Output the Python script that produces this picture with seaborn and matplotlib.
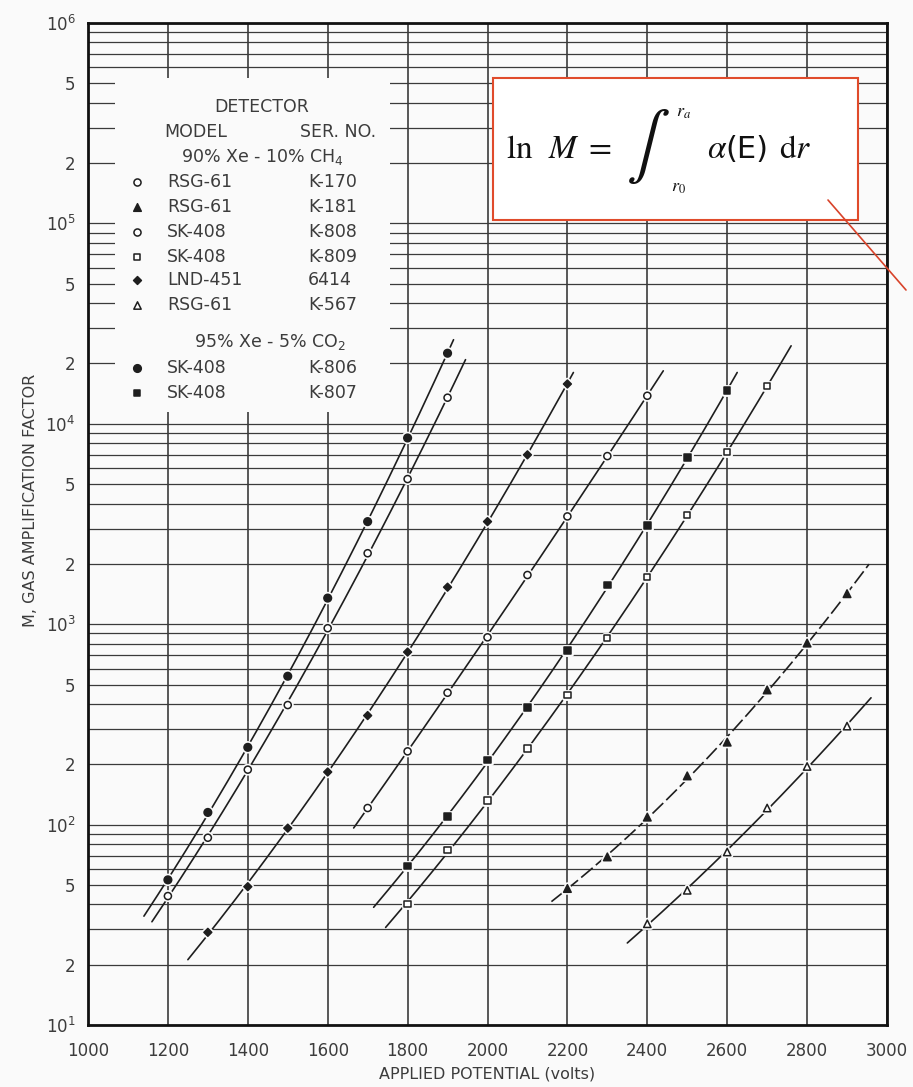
import numpy as np
import pandas as pd
import matplotlib
matplotlib.use("Agg")
import matplotlib.pyplot as plt
import matplotlib.patheffects as pe
from matplotlib.patches import Rectangle
from matplotlib.lines import Line2D
from matplotlib.ticker import FixedLocator, FixedFormatter, NullFormatter
import seaborn as sns

# ---------------------------------------------------------------- data
detector_ids = ["K-170", "K-181", "K-808", "K-809", "6414", "K-567", "K-806", "K-807"]
detector_models = ["RSG-61", "RSG-61", "SK-408", "SK-408", "LND-451", "RSG-61", "SK-408", "SK-408"]
gas_ch4 = "90% Xe - 10% CH$_4$"
gas_co2 = "95% Xe - 5% CO$_2$"

# applied potential (V) and gas amplification factor M for each detector
volts_k806 = [1200, 1300, 1400, 1500, 1600, 1700, 1800, 1900]
gain_k806 = [53, 115, 243, 550, 1350, 3250, 8500, 22500]

volts_k808 = [1200, 1300, 1400, 1500, 1600, 1700, 1800, 1900]
gain_k808 = [44, 86, 188, 395, 955, 2260, 5300, 13500]

volts_6414 = [1300, 1400, 1500, 1600, 1700, 1800, 1900, 2000, 2100, 2200]
gain_6414 = [29, 49, 96, 183, 350, 726, 1530, 3250, 7000, 15800]

volts_k170 = [1700, 1800, 1900, 2000, 2100, 2200, 2300, 2400]
gain_k170 = [121, 232, 455, 860, 1760, 3450, 6900, 13800]

volts_k807 = [1800, 1900, 2000, 2100, 2200, 2300, 2400, 2500, 2600]
gain_k807 = [62, 110, 210, 385, 740, 1570, 3100, 6800, 14700]

volts_k809 = [1800, 1900, 2000, 2100, 2200, 2300, 2400, 2500, 2600, 2700]
gain_k809 = [40, 75, 132, 240, 445, 850, 1720, 3500, 7200, 15500]

volts_k181 = [2200, 2300, 2400, 2500, 2600, 2700, 2800, 2900]
gain_k181 = [48, 69, 109, 175, 258, 470, 805, 1420]

volts_k567 = [2400, 2500, 2600, 2700, 2800, 2900]
gain_k567 = [32, 47, 73, 121, 195, 310]

# voltage span covered by each drawn curve
curve_start = {"K-806": 1140, "K-808": 1160, "6414": 1250, "K-170": 1665,
               "K-807": 1715, "K-809": 1745, "K-181": 2160, "K-567": 2350}
curve_end = {"K-806": 1915, "K-808": 1945, "6414": 2215, "K-170": 2440,
             "K-807": 2625, "K-809": 2760, "K-181": 2955, "K-567": 2960}

x_ticks = list(range(1000, 3001, 200))
decades = [1, 2, 3, 4, 5, 6]

measurements = {
    "K-806": (volts_k806, gain_k806), "K-808": (volts_k808, gain_k808),
    "6414": (volts_6414, gain_6414), "K-170": (volts_k170, gain_k170),
    "K-807": (volts_k807, gain_k807), "K-809": (volts_k809, gain_k809),
    "K-181": (volts_k181, gain_k181), "K-567": (volts_k567, gain_k567),
}

points = pd.concat(
    [pd.DataFrame({"detector": k, "volts": v, "gain": g}) for k, (v, g) in measurements.items()],
    ignore_index=True,
)

# ---------------------------------------------------------------- styles
INK = "#1e1e1e"
TEXT = "#3c3c3c"
PAPER = "#fafafa"

# marker, filled?, size
marker_style = {
    "K-170": ("o", False, 26),
    "K-181": ("^", True, 30),
    "K-808": ("o", False, 26),
    "K-809": ("s", False, 20),
    "6414": ("D", True, 16),
    "K-567": ("^", False, 28),
    "K-806": ("o", True, 30),
    "K-807": ("s", True, 22),
}
line_style = {k: "-" for k in detector_ids}
line_style["K-181"] = (0, (9, 2.5))

W, H = 913, 1087


def fp(x, y):
    """Figure fraction from pixel position (origin top-left)."""
    return x / W, 1 - y / H


sns.set_theme(style="white")
plt.rcParams["font.family"] = ["DejaVu Sans"]

fig = plt.figure(figsize=(W / 100, H / 100), dpi=100, facecolor=PAPER)
ax = fig.add_axes([88 / W, 62 / H, 799 / W, 1002 / H])
ax.set_facecolor(PAPER)
ax.set_yscale("log")
ax.set_xlim(1000, 3000)
ax.set_ylim(10, 1e6)

# ---------------------------------------------------------------- grid / ticks
major_vals, major_labels = [], []
for d in decades:
    major_vals.append(10.0 ** d)
    major_labels.append(r"$\mathregular{10^{%d}}$" % d)
    if d < 6:
        major_vals += [2 * 10.0 ** d, 5 * 10.0 ** d]
        major_labels += ["2", "5"]
minor_vals = [m * 10.0 ** d for d in decades[:-1] for m in (3, 4, 6, 7, 8, 9)]
ax.yaxis.set_major_locator(FixedLocator(major_vals))
ax.yaxis.set_major_formatter(FixedFormatter(major_labels))
ax.yaxis.set_minor_locator(FixedLocator(minor_vals))
ax.yaxis.set_minor_formatter(NullFormatter())
ax.xaxis.set_major_locator(FixedLocator(x_ticks))
ax.set_xticklabels([str(t) for t in x_ticks])

ax.set_axisbelow(True)
ax.grid(True, which="both", axis="y", color="#3a3a3a", lw=0.9)
ax.grid(True, which="major", axis="x", color="#2a2a2a", lw=1.1)
ax.tick_params(axis="both", which="both", length=0, colors=TEXT, labelsize=12)
ax.tick_params(axis="y", pad=9)
ax.tick_params(axis="x", pad=12)
for s in ax.spines.values():
    s.set_visible(True)
    s.set_color("#111111")
    s.set_linewidth(2.0)

# blank panel for the detector key, leaving short tick stubs at the frame
ax.add_patch(Rectangle(fp(115, 412), (390 - 115) / W, (412 - 78) / H,
                       transform=fig.transFigure, facecolor=PAPER,
                       edgecolor="none", zorder=1))

# ---------------------------------------------------------------- curves
halo = [pe.Stroke(linewidth=3.5, foreground=PAPER), pe.Normal()]
for det in detector_ids:
    v, g = measurements[det]
    coef = np.polyfit(v, np.log10(g), 2)
    vv = np.linspace(curve_start[det], curve_end[det], 200)
    sns.lineplot(x=vv, y=10 ** np.polyval(coef, vv), ax=ax, color=INK,
                 lw=1.2, linestyle=line_style[det], estimator=None,
                 sort=False, zorder=3)

for det in detector_ids:
    sub = points[points["detector"] == det]
    mk, filled, size = marker_style[det]
    sns.scatterplot(data=sub, x="volts", y="gain", ax=ax, marker=mk, s=size,
                    color=INK if filled else "white", edgecolor=INK,
                    linewidth=1.1, zorder=4, path_effects=halo, legend=False)

ax.set_xlabel("")
ax.set_ylabel("")
fig.text(*fp(487, 1074), "APPLIED POTENTIAL (volts)", fontsize=11.5,
         color=TEXT, ha="center", va="center")
fig.text(*fp(31, 500), "M, GAS AMPLIFICATION FACTOR", fontsize=11.5,
         color=TEXT, ha="center", va="center", rotation=90)

# ---------------------------------------------------------------- detector key
kw = dict(transform=fig.transFigure, fontsize=12.5, color=TEXT, va="center", zorder=6)
fig.text(*fp(262, 107), "DETECTOR", ha="center", **kw)
fig.text(*fp(196, 132), "MODEL", ha="center", **kw)
fig.text(*fp(338, 132), "SER. NO.", ha="center", **kw)
fig.text(*fp(262, 157), gas_ch4, ha="center", **kw)
fig.text(*fp(270, 342), gas_co2, ha="center", **kw)

row_y = [182, 207, 232, 257, 280, 305, 368, 393]
for det, model, y in zip(detector_ids, detector_models, row_y):
    mk, filled, size = marker_style[det]
    ax.scatter([fp(137, y)[0]], [fp(137, y)[1]], transform=fig.transFigure,
               marker=mk, s=size, color=INK if filled else "white",
               edgecolor=INK, linewidth=1.1, zorder=6, clip_on=False)
    fig.text(*fp(167, y), model, ha="left", **kw)
    fig.text(*fp(308, y), det, ha="left", **kw)

# ---------------------------------------------------------------- formula box
fig.patches.append(Rectangle(fp(493, 220), (858 - 493) / W, (220 - 78) / H,
                             transform=fig.transFigure, facecolor="white",
                             edgecolor="#e04b2b", lw=1.5, zorder=7))
fkw = dict(transform=fig.transFigure, color="#111111", va="baseline",
           math_fontfamily="stix", zorder=8)
fig.text(*fp(506, 158), r"$\mathrm{ln}\ \ M\ =$", fontsize=24, ha="left", **fkw)
fig.text(*fp(648, 146), r"$\int$", fontsize=47, ha="center",
         **{**fkw, "va": "center"})
fig.text(*fp(676, 117), r"$r_a$", fontsize=13, ha="left", **fkw)
fig.text(*fp(671, 192), r"$r_0$", fontsize=13, ha="left", **fkw)
fig.text(*fp(707, 158), r"$\alpha$", fontsize=24, ha="left", **fkw)
fig.text(*fp(725, 158), "(E)", fontsize=22, ha="left", color="#111111",
         va="baseline", zorder=8, transform=fig.transFigure)
fig.text(*fp(779, 158), r"$\mathrm{d}r$", fontsize=24, ha="left", **fkw)
fig.add_artist(Line2D([fp(828, 200)[0], fp(906, 290)[0]],
                      [fp(828, 200)[1], fp(906, 290)[1]],
                      transform=fig.transFigure, color="#d8432a", lw=1.2, zorder=9))

fig.savefig("out.png", dpi=100, facecolor=PAPER)
